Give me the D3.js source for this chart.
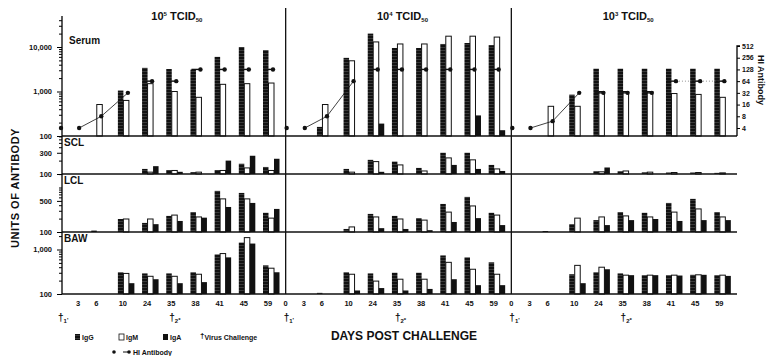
<!DOCTYPE html>
<html>
<head>
<meta charset="utf-8">
<script src="https://cdn.jsdelivr.net/npm/d3@7"></script>
<style>
  body { margin: 0; background: #fff; }
  text { font-family: "Liberation Sans", Arial, sans-serif; font-weight: bold; fill: #111; }
</style>
</head>
<body>
<svg id="chart" width="768" height="356"></svg>
<script>
// dose panels (10^n TCID50) and sampling days
const doses = ["5", "4", "3"];
const days = [0, 3, 6, 10, 24, 35, 38, 41, 45, 59];
const sites = ["Serum", "SCL", "LCL", "BAW"];

// units of antibody, one inner array per dose panel, one entry per day (null = no bar)
const serumIgG = [
  [null, null, null, 1050, 3400, 3200, 3100, 6000, 10000, 8500],
  [null, null, 160, 5700, 20000, 9500, 9500, 11700, 12300, 11000],
  [null, null, null, 850, 3250, 3250, 3250, 3250, 3250, 3250]
];
const serumIgM = [
  [null, null, 510, 630, 1500, 1000, 740, 1450, 1500, 1550],
  [null, null, 510, 4900, 13000, 11700, 11700, 17500, 17500, 16700],
  [null, null, 465, 465, 1000, 1000, 1000, 900, 860, 740]
];
const serumIgA = [
  [null, null, null, null, null, null, null, null, null, null],
  [null, null, null, null, 190, null, null, null, 290, 135],
  [null, null, null, null, null, null, null, null, null, null]
];
const sclIgG = [
  [null, null, null, null, 130, 123, 110, 123, 170, 144],
  [null, null, null, 130, 208, 190, 137, 300, 300, 160],
  [null, null, null, null, 115, 115, 109, 108, 108, 106]
];
const sclIgM = [
  [null, null, null, null, 110, 120, 110, 120, 137, 120],
  [null, null, null, 110, 190, 160, 117, 230, 208, 130],
  [null, null, null, null, 112, 117, 110, 108, 108, 106]
];
const sclIgA = [
  [null, null, null, null, 150, 112, null, 200, 257, 220],
  [null, null, null, null, 112, null, null, 160, 130, 117],
  [null, null, null, null, 140, null, null, null, null, null]
];
const lclIgG = [
  [null, null, 108, 196, 160, 230, 280, 840, 755, 270],
  [null, null, null, 117, 255, 230, 205, 427, 615, 270],
  [null, null, 105, 150, 185, 280, 270, 450, 555, 280]
];
const lclIgM = [
  [null, null, null, 196, 196, 240, 218, 555, 555, 205],
  [null, null, null, 130, 218, 196, 185, 280, 385, 240],
  [null, null, null, 205, 218, 230, 218, 280, 330, 218]
];
const lclIgA = [
  [null, null, null, null, 150, 177, 210, 365, 450, 330],
  [null, null, null, null, 122, 117, 110, 168, 205, 143],
  [null, null, null, null, 143, 185, 196, 177, 185, 185]
];
const bawIgG = [
  [null, null, null, 308, 290, 290, 308, 775, 1430, 440],
  [null, null, 106, 308, 290, 300, 300, 735, 665, 515],
  [null, null, null, 278, 308, 290, 265, 265, 270, 265]
];
const bawIgM = [
  [null, null, null, 290, 250, 250, 278, 810, 1850, 380],
  [null, null, null, 278, 195, 215, 215, 515, 360, 278],
  [null, null, null, 440, 400, 265, 265, 265, 270, 265]
];
const bawIgA = [
  [null, null, null, 175, 215, 175, 185, 665, 1360, 308],
  [null, null, null, 120, 136, 120, 130, 215, 158, 158],
  [null, null, null, 175, 360, 265, 265, 260, 270, 255]
];
// serum HI antibody titre
const hiAntibody = [
  [4, 4, 8, 32, 64, 64, 128, 128, 128, 128],
  [4, 4, 8, 64, 128, 128, 128, 128, 128, 128],
  [4, 4, 6, 32, 32, 32, 32, 64, 64, 64]
];
const hiTicks = [512, 256, 128, 64, 32, 16, 8, 4];
const siteLabels = [[100, 1000, 10000], [100, 300], [100, 500], [100, 1000]];
const challengeDays = [0, 35]; // t1, t2 markers

const svg = d3.select("#chart");

// IgG hatch
const pat = svg.append("defs").append("pattern")
  .attr("id", "hatch").attr("patternUnits", "userSpaceOnUse")
  .attr("width", 4).attr("height", 3);
pat.append("rect").attr("width", 4).attr("height", 3).attr("fill", "#111");
pat.append("rect").attr("y", 2).attr("width", 4).attr("height", 0.6).attr("fill", "#555");

// x: dose panels, then days inside a panel (days without bars are packed closer)
const panelX = d3.scaleBand().domain(doses).range([60, 737]);
const dayUnits = [];
days.forEach((d, i) => {
  dayUnits.push(i === 0 ? 0 : dayUnits[i - 1] + (d <= 6 ? 0.75 : (days[i - 1] === 6 ? 1.1 : 1)));
});
const dayX = d3.scaleLinear().domain([0, d3.max(dayUnits)]).range([0, 208]);
const cx = (p, i) => panelX(doses[p]) + dayX(dayUnits[i]);

// y: one log scale per site row, same decade height
const rowTop = [16, 136, 174, 232];
const rowBase = [136, 174, 232, 294];
const decade = 44.5;
const yScales = rowBase.map(b => d3.scaleLog().domain([100, 1000]).range([b, b - decade]));
const hiY = d3.scaleLog().base(2).domain([4, 512]).range([128, 46]);

const series = [
  { key: "IgG", data: [serumIgG, sclIgG, lclIgG, bawIgG], dx: -5, fill: "url(#hatch)", stroke: "none" },
  { key: "IgM", data: [serumIgM, sclIgM, lclIgM, bawIgM], dx: 0.5, fill: "#fff", stroke: "#111" },
  { key: "IgA", data: [serumIgA, sclIgA, lclIgA, bawIgA], dx: 6, fill: "#111", stroke: "none" }
];
const barW = 5.5;

// bars
series.forEach(s => {
  sites.forEach((site, r) => {
    const y = yScales[r];
    doses.forEach((dose, p) => {
      svg.append("g").selectAll("rect")
        .data(s.data[r][p].map((v, i) => ({ v, i })).filter(d => d.v != null))
        .join("rect")
        .attr("x", d => cx(p, d.i) + s.dx)
        .attr("y", d => y(d.v))
        .attr("width", barW)
        .attr("height", d => rowBase[r] - y(d.v))
        .attr("fill", s.fill)
        .attr("stroke", s.stroke)
        .attr("stroke-width", 1);
    });
  });
});

// frame lines
const frame = svg.append("g").attr("stroke", "#111").attr("stroke-width", 1.3);
rowBase.forEach(b => frame.append("line").attr("x1", 62).attr("x2", 737).attr("y1", b).attr("y2", b));
doses.slice(1).forEach(d => frame.append("line")
  .attr("x1", panelX(d)).attr("x2", panelX(d)).attr("y1", 8).attr("y2", 294));

// left axes
sites.forEach((site, r) => {
  const y = yScales[r];
  const topVal = y.invert(rowTop[r]);
  const vals = d3.scaleLog().domain([100, topVal]).ticks().filter(v => v < topVal);
  const g = svg.append("g").attr("transform", "translate(62,0)")
    .call(d3.axisLeft(y).tickValues(vals).tickSize(3).tickPadding(7)
      .tickFormat(d => siteLabels[r].includes(d) ? d3.format(",")(d) : ""));
  g.select(".domain").attr("d", `M0,${rowTop[r]}V${rowBase[r]}`).attr("stroke-width", 1.3);
  g.selectAll(".tick line").attr("x2", d => siteLabels[r].includes(d) ? -5 : -3);
  g.selectAll(".tick text").style("font-size", "7.5px").style("font-weight", "bold")
    .style("font-family", "Liberation Sans, Arial, sans-serif");
  svg.append("text").attr("x", r === 0 ? 69 : 64).attr("y", rowTop[r] + (r === 0 ? 28 : 10))
    .style("font-size", "10px").text(site);
});

// right HI axis
const hiAxis = svg.append("g").attr("transform", "translate(737,0)")
  .call(d3.axisRight(hiY).tickValues(hiTicks).tickSize(3).tickPadding(2).tickFormat(d3.format("d")));
hiAxis.select(".domain").attr("d", `M3,${hiY(512)}H0V136`).attr("stroke-width", 1.3);
hiAxis.selectAll("text").style("font-size", "7px").style("font-weight", "bold")
  .style("font-family", "Liberation Sans, Arial, sans-serif");
svg.append("text").attr("transform", `translate(758,80) rotate(90)`).attr("text-anchor", "middle")
  .style("font-size", "9px").text("HI Antibody");

// HI antibody points
hiAntibody.forEach((vals, p) => {
  const pts = vals.map((v, i) => ({ v, i, x: cx(p, i) + (days[i] >= 6 ? 5 : 1), y: hiY(v) }));
  const line = d3.line().x(d => d.x).y(d => d.y);
  svg.append("path").datum(pts.filter(d => d.i >= 1 && d.i <= 3))
    .attr("d", line).attr("fill", "none").attr("stroke", "#111").attr("stroke-width", 0.8);
  if (p === 2) {
    svg.append("path").datum(pts.filter(d => d.i >= 7))
      .attr("d", line).attr("fill", "none").attr("stroke", "#777")
      .attr("stroke-width", 0.8).attr("stroke-dasharray", "1,2");
  }
  svg.append("g").selectAll("line").data(pts.filter(d => days[d.i] >= 24)).join("line")
    .attr("x1", d => cx(p, d.i) - 4).attr("x2", d => d.x).attr("y1", d => d.y).attr("y2", d => d.y)
    .attr("stroke", "#111").attr("stroke-width", 1.4);
  svg.append("g").selectAll("circle").data(pts).join("circle")
    .attr("cx", d => d.x).attr("cy", d => d.y).attr("r", 2.2).attr("fill", "#111");
});

// panel titles and day labels
doses.forEach((dose, p) => {
  const mid = panelX(dose) + panelX.bandwidth() / 2;
  const t = svg.append("text").attr("x", mid + 4).attr("y", 20).attr("text-anchor", "middle")
    .style("font-size", "11px");
  t.append("tspan").text("10");
  t.append("tspan").attr("dy", -4).style("font-size", "6px").text(dose);
  t.append("tspan").attr("dy", 4).text(" TCID");
  t.append("tspan").attr("dy", 2).style("font-size", "6px").text("50");

  svg.append("g").selectAll("text").data(days.map((d, i) => ({ d, i })).filter(d => !(p === 0 && d.d === 0)))
    .join("text")
    .attr("x", d => cx(p, d.i)).attr("y", 306).attr("text-anchor", "middle")
    .style("font-size", "7.5px").text(d => d.d);

  challengeDays.forEach((cd, k) => {
    const m = svg.append("text").attr("x", cx(p, days.indexOf(cd)) - 2).attr("y", 321)
      .style("font-size", "10px");
    m.append("tspan").text("\u2020");
    m.append("tspan").attr("dy", 2).style("font-size", "6px").text(k + 1);
    m.append("tspan").attr("dy", -1).style("font-size", "6px").text(k === 0 ? "'" : "*");
  });
});

// axis titles
svg.append("text").attr("transform", "translate(19,188) rotate(-90)").attr("text-anchor", "middle")
  .style("font-size", "11px").style("letter-spacing", "0.5px").text("UNITS OF ANTIBODY");
svg.append("text").attr("x", 404).attr("y", 340).attr("text-anchor", "middle")
  .style("font-size", "12px").text("DAYS POST CHALLENGE");

// legend
const lg = svg.append("g").style("font-size", "7px");
series.forEach((s, k) => {
  const x = 75 + k * 44;
  lg.append("rect").attr("x", x).attr("y", 334).attr("width", 5).attr("height", 6)
    .attr("fill", s.fill).attr("stroke", s.stroke).attr("stroke-width", 0.8);
  lg.append("text").attr("x", x + 7).attr("y", 340).text(s.key);
});
const vc = lg.append("text").attr("x", 200).attr("y", 340);
vc.append("tspan").attr("dy", -2).style("font-size", "8px").text("\u2020");
vc.append("tspan").attr("dy", 2).text("Virus Challenge");
lg.append("circle").attr("cx", 114).attr("cy", 352).attr("r", 1.8).attr("fill", "#111");
lg.append("line").attr("x1", 123).attr("x2", 129).attr("y1", 352).attr("y2", 352)
  .attr("stroke", "#111").attr("stroke-width", 1);
lg.append("circle").attr("cx", 129).attr("cy", 352).attr("r", 1.8).attr("fill", "#111");
lg.append("text").attr("x", 133).attr("y", 354.5).text("HI Antibody");
</script>
</body>
</html>
